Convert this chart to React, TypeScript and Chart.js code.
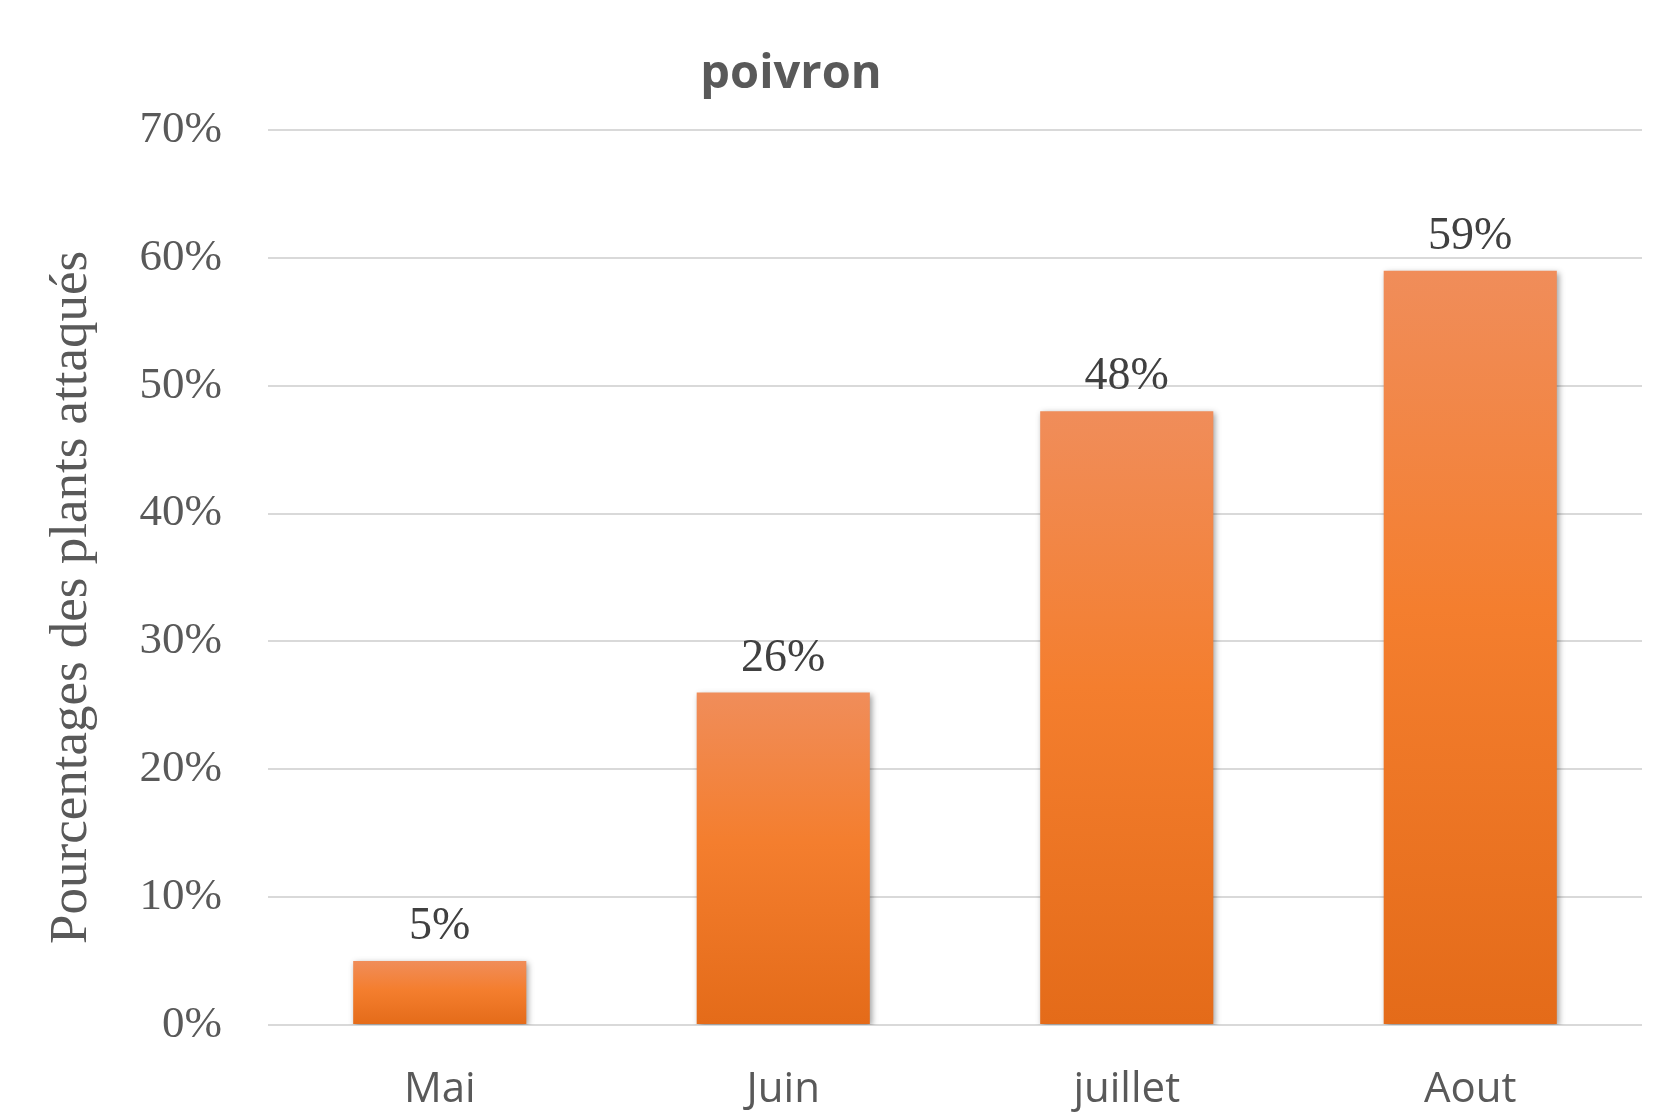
import React, { useEffect, useRef } from "react";
import { Chart, registerables } from "chart.js";

Chart.register(...registerables);

const categories = ["Mai", "Juin", "juillet", "Aout"];
const values = [5, 26, 48, 59];
const yTicks = [0, 10, 20, 30, 40, 50, 60, 70];
const chartTitle = "poivron";
const yTitle = "Pourcentages des plants attaqués";

const W = 1662;
const H = 1114;

export default function App() {
  const ref = useRef<HTMLCanvasElement | null>(null);

  useEffect(() => {
    const canvas = ref.current;
    if (!canvas) return;

    const shadowPlugin = {
      id: "barShadow",
      beforeDatasetsDraw(chart: any) {
        const ctx = chart.ctx;
        ctx.save();
        ctx.shadowColor = "rgba(0,0,0,0.38)";
        ctx.shadowBlur = 6;
        ctx.shadowOffsetX = 2;
        ctx.shadowOffsetY = 2;
      },
      afterDatasetsDraw(chart: any) {
        chart.ctx.restore();
      },
    };

    const labelPlugin = {
      id: "valueLabels",
      afterDatasetsDraw(chart: any) {
        const ctx = chart.ctx;
        const meta = chart.getDatasetMeta(0);
        ctx.save();
        ctx.shadowColor = "transparent";
        ctx.font = '46px "Liberation Serif", "Times New Roman", serif';
        ctx.fillStyle = "#404040";
        ctx.textAlign = "center";
        ctx.textBaseline = "alphabetic";
        meta.data.forEach((el: any, i: number) => {
          ctx.fillText(values[i] + "%", el.x, el.y - 22);
        });
        ctx.restore();
      },
    };

    const titlePlugin = {
      id: "mainTitle",
      afterDraw(chart: any) {
        const ctx = chart.ctx;
        ctx.save();
        ctx.font = 'bold 47px "Open Sans", sans-serif';
        ctx.fillStyle = "#595959";
        ctx.textAlign = "center";
        ctx.textBaseline = "middle";
        ctx.fillText(chartTitle, 791, 75);
        ctx.restore();
      },
    };

    const chart = new Chart(canvas, {
      type: "bar",
      data: {
        labels: categories,
        datasets: [
          {
            data: values,
            backgroundColor: (c: any) => {
              const ch = c.chart;
              const y = ch.scales && ch.scales.y;
              if (!ch.chartArea || !y || c.parsed == null) return "#F47D2E";
              const top = y.getPixelForValue(c.parsed.y);
              const bottom = y.getPixelForValue(0);
              if (!isFinite(top) || !isFinite(bottom) || top === bottom) return "#F47D2E";
              const g = ch.ctx.createLinearGradient(0, top, 0, bottom);
              g.addColorStop(0, "#F08D5A");
              g.addColorStop(0.45, "#F47E2E");
              g.addColorStop(1, "#E46B19");
              return g;
            },
            borderWidth: 0,
            barPercentage: 0.504,
            categoryPercentage: 1,
          },
        ],
      },
      options: {
        responsive: false,
        animation: false,
        devicePixelRatio: 1,
        layout: { padding: { left: 0, right: 20, top: 130, bottom: 0 } },
        plugins: {
          legend: { display: false },
          tooltip: { enabled: false },
          title: { display: false },
        },
        scales: {
          x: {
            grid: { display: false },
            border: { display: false },
            ticks: {
              color: "#595959",
              font: { family: '"Open Sans", sans-serif', size: 42 },
              padding: 32,
            },
            afterFit: (s: any) => {
              s.height = 89;
            },
          },
          y: {
            min: 0,
            max: 70,
            afterBuildTicks: (s: any) => {
              s.ticks = yTicks.map((v) => ({ value: v }));
            },
            grid: { color: "#D9D9D9", lineWidth: 2, drawTicks: false },
            border: { display: false },
            ticks: {
              color: "#595959",
              font: { family: '"Liberation Serif", "Times New Roman", serif', size: 45 },
              padding: 46,
              callback: (v: any) => v + "%",
            },
            title: {
              display: true,
              text: yTitle + "   ",
              color: "#595959",
              font: { family: '"Liberation Serif", "Times New Roman", serif', size: 53, lineHeight: 1.2 },
              padding: { top: 40, bottom: 0 },
            },
            afterFit: (s: any) => {
              s.width = 268;
            },
          },
        },
      },
      plugins: [shadowPlugin, labelPlugin, titlePlugin],
    });

    return () => chart.destroy();
  }, []);

  return (
    <div
      style={{
        position: "fixed",
        left: 0,
        top: 0,
        width: W,
        height: H,
        background: "#ffffff",
      }}
    >
      <canvas ref={ref} width={W} height={H} style={{ width: W, height: H, display: "block" }} />
    </div>
  );
}
